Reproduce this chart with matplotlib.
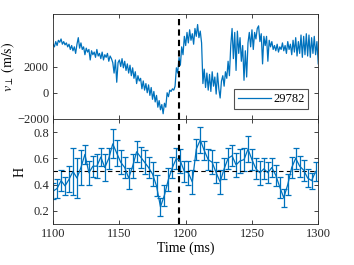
import numpy as np
import matplotlib
matplotlib.use('Agg')
import matplotlib.pyplot as plt

plt.rcParams['font.family'] = ['Liberation Serif', 'DejaVu Serif']
plt.rcParams['mathtext.fontset'] = 'stix'

# perpendicular velocity, 1 ms samples from 1100 to 1300 ms
v_time = np.arange(1100, 1301, 1)
v_perp = [
    3700, 3500, 3900, 3600, 4000, 3850, 4100, 3700, 3900, 3650,
    3800, 3500, 3700, 3300, 3600, 3200, 3500, 3000, 3700, 4200,
    3400, 3800, 3300, 3500, 2900, 3400, 3100, 3300, 2500, 3200,
    2900, 3100, 2700, 3300, 2800, 3000, 2600, 3100, 2500, 2900,
    2700, 3000, 2400, 2800, 2600, 2300, 1500, 2500, 800, 2300,
    2500, 2000, 2600, 1900, 2400, 1700, 2200, 1500, 2100, 1300,
    1900, 1100, 1600, 700, 1300, 900, 1100, 300, 900, 200,
    700, 0, 600, -200, 400, -500, 100, -700, -200, -1100,
    -600, -1300, -900, -1600, -800, -1100, 0, -300, 200, 100,
    300, 200, 500, 1900, 1500, 2700, 2100, 3500, 2900, 4300,
    3600, 4600, 3800, 4800, 4000, 4500, 3700, 4900, 4300, 5200,
    4200, 4700, 3800, 700, 1800, 400, 1500, 200, 1400, 100,
    1600, 500, 1200, -100, 1500, 300, -400, 900, 1300, 500,
    1600, 1100, 2400, 1300, 3600, 4900, 2600, 4600, 1700, 4700,
    3000, 4200, 2400, 3600, 950, 3200, 1200, 3800, 4600, 3500,
    4800, 3300, 4600, 4100, 4900, 5100, 3900, 4500, 2200, 4300,
    3600, 4300, 2400, 4000, 3500, 3900, 3300, 3600, 3200, 3700,
    3100, 3500, 3300, 3800, 3200, 3600, 3000, 3900, 3300, 3700,
    2900, 4000, 3100, 4200, 2800, 3900, 3000, 4400, 2700, 4300,
    2900, 4500, 2800, 4400, 2700, 4200, 3000, 4300, 2900, 3900,
    2200,
]

# Hurst exponent with error bars
h_time = [1100, 1103, 1106, 1109, 1112, 1115, 1118, 1121, 1124, 1127,
          1130, 1133, 1136, 1139, 1142, 1145, 1148, 1151, 1154, 1157,
          1160, 1163, 1166, 1169, 1172, 1175, 1178, 1181, 1184, 1187,
          1190, 1193, 1196, 1199, 1202, 1205, 1208, 1211, 1214, 1217,
          1220, 1223, 1226, 1229, 1232, 1235, 1238, 1241, 1244, 1247,
          1250, 1253, 1256, 1259, 1262, 1265, 1268, 1271, 1274, 1277,
          1280, 1283, 1286, 1289, 1292, 1295, 1298]
h_val = [0.35, 0.37, 0.43, 0.39, 0.44, 0.50, 0.45, 0.53, 0.63, 0.49,
         0.54, 0.54, 0.61, 0.53, 0.60, 0.71, 0.64, 0.57, 0.53, 0.45,
         0.54, 0.65, 0.61, 0.57, 0.53, 0.48, 0.39, 0.23, 0.32, 0.44,
         0.53, 0.60, 0.58, 0.50, 0.49, 0.42, 0.67, 0.74, 0.66, 0.59,
         0.57, 0.49, 0.42, 0.52, 0.60, 0.62, 0.55, 0.58, 0.59, 0.67,
         0.59, 0.52, 0.49, 0.52, 0.49, 0.53, 0.47, 0.38, 0.30, 0.40,
         0.53, 0.60, 0.54, 0.51, 0.45, 0.43, 0.50]
h_err = [0.06, 0.07, 0.08, 0.07, 0.10, 0.18, 0.15, 0.13, 0.07, 0.09,
         0.08, 0.09, 0.07, 0.10, 0.08, 0.11, 0.10, 0.09, 0.08, 0.08,
         0.09, 0.08, 0.08, 0.09, 0.08, 0.09, 0.08, 0.07, 0.08, 0.09,
         0.08, 0.08, 0.09, 0.08, 0.09, 0.09, 0.08, 0.10, 0.07, 0.08,
         0.09, 0.08, 0.09, 0.08, 0.08, 0.08, 0.09, 0.09, 0.09, 0.10,
         0.08, 0.08, 0.09, 0.08, 0.08, 0.07, 0.08, 0.08, 0.07, 0.08,
         0.08, 0.08, 0.08, 0.08, 0.07, 0.06, 0.07]

shot = '29782'
t_event = 1195
blue = '#0072BD'

fig = plt.figure(figsize=(3.54, 2.65), dpi=100)
ax1 = fig.add_axes([0.150, 0.551, 0.749, 0.396])
ax2 = fig.add_axes([0.150, 0.155, 0.749, 0.396])

ax1.plot(v_time, v_perp, color=blue, lw=0.9, label=shot)
ax1.axvline(t_event, color='k', ls='--', lw=1.5, dashes=(3, 2))
ax1.set_xlim(1100, 1300)
ax1.set_ylim(-2000, 6000)
ax1.set_yticks([-2000, 0, 2000])
ax1.set_xticks([1100, 1150, 1200, 1250, 1300])
ax1.set_xticklabels([])
ax1.set_ylabel(r'$v_\perp\ \mathrm{(m/s)}$', fontsize=10)
ax1.yaxis.set_label_coords(-0.135, 0.5)
leg = ax1.legend(loc='lower right', fontsize=9, frameon=True, fancybox=False,
                 handlelength=2.6, borderpad=0.3, borderaxespad=0.8,
                 handletextpad=0.2)
leg.get_frame().set_edgecolor('#262626')
leg.get_frame().set_linewidth(0.8)

ax2.errorbar(h_time, h_val, yerr=h_err, color=blue, lw=0.9, elinewidth=0.9,
             capsize=2.3, capthick=0.9)
ax2.axhline(0.5, color='k', ls='--', lw=0.8, dashes=(4, 3))
ax2.axvline(t_event, color='k', ls='--', lw=1.5, dashes=(3, 2))
ax2.set_xlim(1100, 1300)
ax2.set_ylim(0.1, 0.9)
ax2.set_yticks([0.2, 0.4, 0.6, 0.8])
ax2.set_xticks([1100, 1150, 1200, 1250, 1300])
ax2.set_xlabel('Time (ms)', fontsize=10, labelpad=1)
ax2.set_ylabel('H', fontsize=10)
ax2.yaxis.set_label_coords(-0.1, 0.5)

for ax in (ax1, ax2):
    ax.tick_params(direction='in', top=True, right=True, labelsize=9,
                   length=3, width=0.6, colors='#262626', pad=3)
    for s in ax.spines.values():
        s.set_color('#262626')
        s.set_linewidth(0.6)

fig.savefig('out.png', dpi=100)
